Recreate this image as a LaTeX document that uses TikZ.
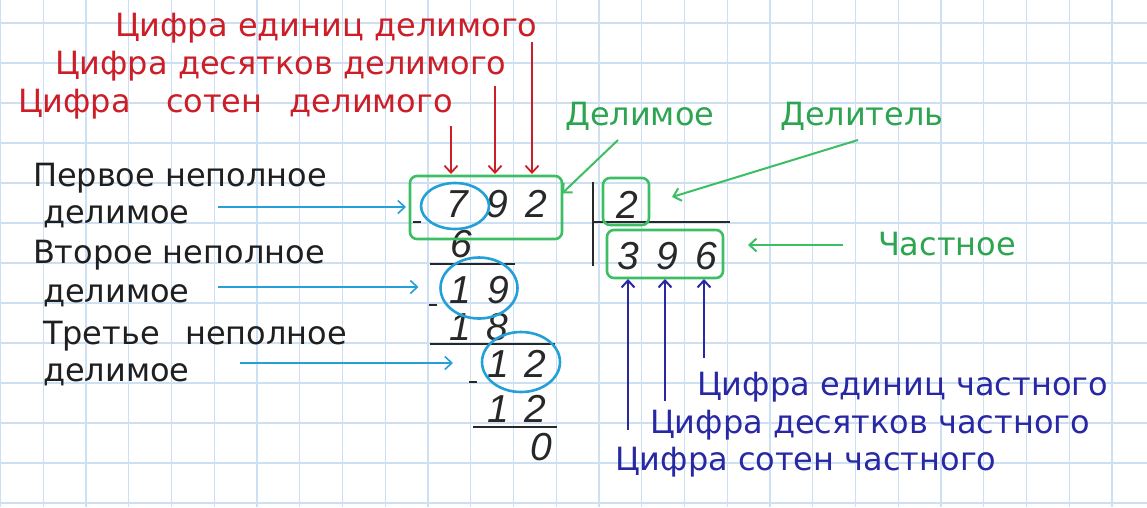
\documentclass[tikz,border=0pt]{standalone}
\usepackage{fontspec}
\setmainfont{DejaVu Sans}
\newfontfamily\digfont{Liberation Sans}
\usetikzlibrary{arrows.meta,shapes.geometric}
\definecolor{gridc}{RGB}{205,223,242}
\definecolor{redc}{RGB}{205,30,40}
\definecolor{greenc}{RGB}{60,190,100}
\definecolor{greentxt}{RGB}{45,165,80}
\definecolor{cyanc}{RGB}{35,160,215}
\definecolor{navyc}{RGB}{40,40,165}
\definecolor{inkc}{RGB}{40,40,40}
\begin{document}
\begin{tikzpicture}[x=1pt,y=-1pt,
  every node/.style={inner sep=0pt,outer sep=0pt},
  lbl/.style={anchor=base west,font=\fontsize{32}{36}\selectfont},
  redl/.style={lbl,text=redc},
  grnl/.style={lbl,text=greentxt},
  blkl/.style={lbl,text=black!88},
  navl/.style={lbl,text=navyc},
  dig/.style={text=inkc,font=\digfont\itshape\fontsize{39}{41}\selectfont},
  gbox/.style={draw=greenc,line width=2.6pt,rounded corners=7pt},
  oval/.style={draw=cyanc,line width=2.6pt,ellipse},
  rulel/.style={draw=inkc,line width=2.6pt},
  barb/.style={-{Straight Barb[length=7pt,width=13pt]}},
  redarr/.style={draw=redc,line width=1.8pt,barb},
  grnarr/.style={draw=greenc,line width=2pt,barb},
  cyanarr/.style={draw=cyanc,line width=1.6pt,barb},
  navarr/.style={draw=navyc,line width=2pt,barb}
]
\useasboundingbox (0,0) rectangle (1147,507);
\fill[white] (0,0) rectangle (1147,507);
% grid
\foreach \i in {0,...,26} \draw[gridc,line width=1.2pt] ({0.5+42.75*\i},0) -- ++(0,507);
\foreach \j in {0,...,12} \draw[gridc,line width=1.2pt] (0,{23+40*\j}) -- ++(1147,0);

% labels
\node[redl] (r1) at (115,36) {Цифра единиц делимого};
\node[redl] (r2) at (55,74) {Цифра десятков делимого};
\node[redl] (r3) at (18,112) {Цифра\hspace{1.1em}сотен\hspace{0.85em}делимого};

\node[blkl] (b1) at (33,186) {Первое неполное};
\node[blkl] (b2) at (43,223) {делимое};
\node[blkl] (b3) at (33,263) {Второе неполное};
\node[blkl] (b4) at (43,302) {делимое};
\node[blkl] (b5) at (43,344) {Третье\hspace{0.8em}неполное};
\node[blkl] (b6) at (43,381) {делимое};

\node[grnl] (g1) at (565,125) {Делимое};
\node[grnl] (g2) at (780,125) {Делитель};
\node[grnl] (g3) at (878,255) {Частное};

\node[navl] (n1) at (697,395) {Цифра единиц частного};
\node[navl] (n2) at (650,433) {Цифра десятков частного};
\node[navl] (n3) at (615,470) {Цифра сотен частного};

% digits
\node[dig] (d7) at (457,204) {7};
\node[dig] (d9) at (497,204) {9};
\node[dig] (d2) at (536,204) {2};
\node[dig] (s6) at (461,244) {6};
\node[dig] (p1) at (460,290) {1};
\node[dig] (p9) at (498,290) {9};
\node[dig] (s1) at (460,327) {1};
\node[dig] (s8) at (497,327) {8};
\node[dig] (t1) at (498,364) {1};
\node[dig] (t2) at (535,364) {2};
\node[dig] (u1) at (498,409) {1};
\node[dig] (u2) at (535,409) {2};
\node[dig] (z0) at (541,447) {0};
\node[dig] (v2) at (627,205) {2};
\node[dig] (q3) at (628,256) {3};
\node[dig] (q9) at (667,256) {9};
\node[dig] (q6) at (706,256) {6};

% division lines and minus signs
\draw[rulel] (593,182) -- (593,266);
\draw[rulel] (593,222) -- (730,222);
\draw[rulel] (430,264) -- (515,264);
\draw[rulel] (430,344) -- (555,344);
\draw[rulel] (473,427) -- (557,427);
\draw[rulel] (413,222) -- (421,222);
\draw[rulel] (429,305) -- (437,305);
\draw[rulel] (469,382) -- (477,382);

% boxes and ovals
\node[gbox,minimum width=152,minimum height=63] (divbox) at (486,207.5) {};
\node[gbox,minimum width=46,minimum height=47] (dvbox) at (626,201.5) {};
\node[gbox,minimum width=116,minimum height=48] (qbox) at (665,254) {};
\node[oval,minimum width=68,minimum height=46] (e7) at (455,206) {};
\node[oval,minimum width=77,minimum height=61] (e19) at (479,288) {};
\node[oval,minimum width=78,minimum height=60] (e12) at (521,362) {};

% red arrows
\coordinate (ra1) at (532,42);
\coordinate (ra2) at (495,86);
\coordinate (ra3) at (451,126);
\draw[redarr,shorten >=2pt] (ra1) -- (ra1 |- divbox.north);
\draw[redarr,shorten >=2pt] (ra2) -- (ra2 |- divbox.north);
\draw[redarr,shorten >=2pt] (ra3) -- (ra3 |- divbox.north);

% green arrows
\coordinate (ga1) at (618,140);
\coordinate (ga2) at (858,140);
\coordinate (ga2t) at (672,197);
\coordinate (ga3) at (843,245);
\coordinate (ga3t) at (748,245);
\draw[grnarr] (ga1) -- ([yshift=14pt]divbox.east);
\draw[grnarr] (ga2) -- (ga2t);
\draw[grnarr] (ga3) -- (ga3t);

% cyan arrows
\coordinate (ca1) at (218,207);
\coordinate (ca2) at (218,287);
\coordinate (ca3) at (240,363);
\draw[cyanarr,shorten >=4pt] (ca1) -- (ca1 -| divbox.west);
\draw[cyanarr,shorten >=22pt] (ca2) -- (ca2 -| e19.west);
\draw[cyanarr,shorten >=29pt] (ca3) -- (ca3 -| e12.west);

% navy arrows
\coordinate (na1) at (628,430);
\coordinate (na2) at (665,401);
\coordinate (na3) at (704,358);
\draw[navarr,shorten >=1pt] (na1) -- (na1 |- qbox.south);
\draw[navarr,shorten >=1pt] (na2) -- (na2 |- qbox.south);
\draw[navarr,shorten >=1pt] (na3) -- (na3 |- qbox.south);
\end{tikzpicture}
\end{document}
